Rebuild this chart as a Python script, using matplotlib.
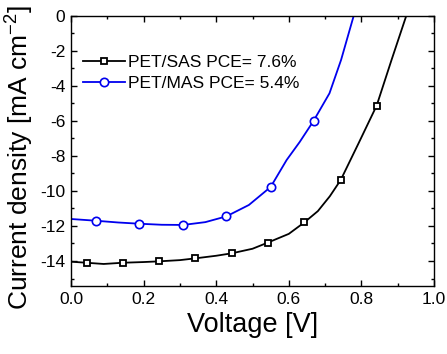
import matplotlib
matplotlib.use("Agg")
import matplotlib.pyplot as plt
from matplotlib.lines import Line2D
from matplotlib.ticker import MultipleLocator

plt.rcParams['font.family'] = ['Liberation Sans', 'DejaVu Sans']
plt.rcParams['mathtext.fontset'] = 'custom'
plt.rcParams['mathtext.rm'] = 'Liberation Sans'
plt.rcParams['mathtext.it'] = 'Liberation Sans'

sas_line_v = [0.0, 0.043, 0.09, 0.142, 0.2, 0.242, 0.3, 0.342, 0.4, 0.443, 0.5, 0.542,
              0.6, 0.643, 0.68, 0.713, 0.743, 0.792, 0.842, 0.883, 0.925]
sas_line_j = [-14.04, -14.1, -14.17, -14.1, -14.06, -14.02, -13.95, -13.85, -13.7, -13.56,
              -13.3, -12.95, -12.45, -11.79, -11.15, -10.3, -9.37, -7.28, -5.12, -2.51, 0.1]
sas_mark_v = [0.043, 0.142, 0.242, 0.342, 0.443, 0.542, 0.643, 0.743, 0.842]
sas_mark_j = [-14.1, -14.1, -14.02, -13.85, -13.56, -12.95, -11.79, -9.37, -5.12]

mas_line_v = [0.0, 0.069, 0.13, 0.188, 0.25, 0.309, 0.37, 0.428, 0.49, 0.55,
              0.594, 0.63, 0.668, 0.712, 0.744, 0.78]
mas_line_j = [-11.6, -11.7, -11.8, -11.87, -11.93, -11.94, -11.78, -11.45, -10.8, -9.77,
              -8.23, -7.2, -6.0, -4.42, -2.51, 0.1]
mas_mark_v = [0.069, 0.188, 0.309, 0.428, 0.55, 0.668]
mas_mark_j = [-11.7, -11.87, -11.94, -11.45, -9.77, -6.0]

labels = ['PET/SAS PCE= 7.6%', 'PET/MAS PCE= 5.4%']

fig = plt.figure(figsize=(4.47, 3.54), dpi=100)
ax = fig.add_axes([0.1588, 0.192, 0.8122, 0.763])

blue = '#0000ee'
ax.plot(sas_line_v, sas_line_j, color='black', lw=1.3, zorder=2)
ax.plot(sas_mark_v, sas_mark_j, 's', ms=4.5, mfc='white', mec='black', mew=1.3, zorder=3)
ax.plot(mas_line_v, mas_line_j, color=blue, lw=1.3, zorder=2)
ax.plot(mas_mark_v, mas_mark_j, 'o', ms=6, mfc='white', mec=blue, mew=1.2, zorder=3)

ax.set_xlim(0, 1.0)
ax.set_ylim(-15.43, 0)
ax.xaxis.set_minor_locator(MultipleLocator(0.1))
ax.yaxis.set_minor_locator(MultipleLocator(1))
ax.set_xticks([0, 0.2, 0.4, 0.6, 0.8, 1.0])
ax.set_xticklabels(['0.0', '0.2', '0.4', '0.6', '0.8', '1.0'])
ax.set_yticks([0, -2, -4, -6, -8, -10, -12, -14])
ax.set_yticklabels(['0', '-2', '-4', '-6', '-8', '-10', '-12', '-14'])
ax.tick_params(which='both', direction='in', top=True, right=True, labelsize=12.5, width=1)
ax.tick_params(which='major', length=4, pad=4)
ax.tick_params(which='minor', length=2.5)
for s in ax.spines.values():
    s.set_linewidth(1)

ax.set_xlabel('Voltage [V]', fontsize=19.5, labelpad=4)
ax.set_ylabel('Current density [mA cm$^{-2}$]', fontsize=19)
ax.yaxis.set_label_coords(-0.095, 0.476)

handles = [Line2D([], [], color='black', lw=1.3, marker='s', ms=4.5, mfc='white', mec='black', mew=1.3),
           Line2D([], [], color=blue, lw=1.3, marker='o', ms=6, mfc='white', mec=blue, mew=1.2)]
ax.legend(handles, labels, loc='upper left', bbox_to_anchor=(0.0, 0.90), frameon=False,
          fontsize=12.5, handlelength=2.4, handletextpad=0.2, labelspacing=0.35,
          borderaxespad=0.3)

fig.savefig('out.png', dpi=100)
